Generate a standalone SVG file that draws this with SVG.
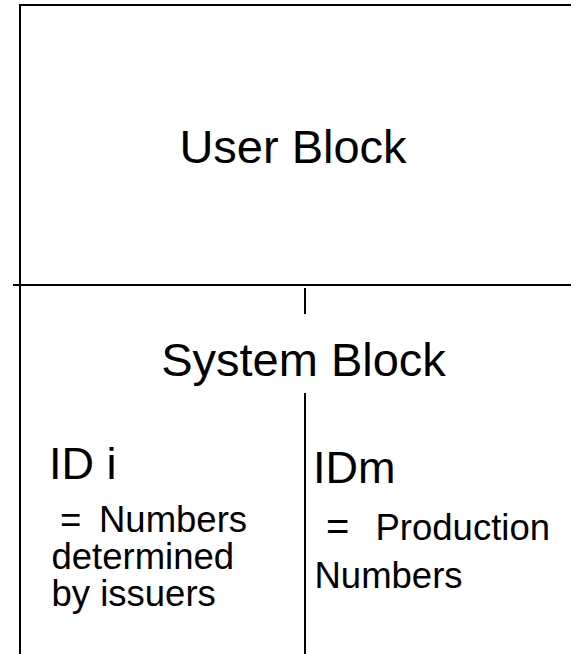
<svg xmlns="http://www.w3.org/2000/svg" width="571" height="654" viewBox="0 0 571 654">
<style>
.ln{stroke:#000;stroke-width:2;fill:none}
text{font-family:"Liberation Sans",Arial,sans-serif;fill:#000}
.big{font-size:47px}
.mid{font-size:45px}
.sm{font-size:36.5px}
</style>
<rect width="571" height="654" fill="#fff"/>
<g id="frame">
<line class="ln" x1="20" y1="5" x2="571" y2="5"/>
<line class="ln" x1="20" y1="4" x2="20" y2="654"/>
<line class="ln" x1="13" y1="285" x2="571" y2="285"/>
</g>
<g id="user-block">
<text class="big" x="293" y="163" text-anchor="middle">User Block</text>
</g>
<g id="system-block">
<text class="big" x="303.5" y="376" text-anchor="middle">System Block</text>
</g>
<g id="connectors">
<line class="ln" x1="305" y1="288" x2="305" y2="314"/>
<line class="ln" x1="305" y1="393" x2="305" y2="654"/>
</g>
<g id="id-i">
<text class="mid" x="49" y="479">ID i</text>
<text class="sm" x="60" y="532">=</text>
<text class="sm" x="99" y="532">Numbers</text>
<text class="sm" x="51.5" y="569">determined</text>
<text class="sm" x="51.5" y="606">by issuers</text>
</g>
<g id="id-m">
<text class="mid" x="313" y="483">IDm</text>
<text style="font-size:40px" x="326" y="540">=</text>
<text class="sm" x="375.5" y="540">Production</text>
<text class="sm" x="314.5" y="588">Numbers</text>
</g>
</svg>
